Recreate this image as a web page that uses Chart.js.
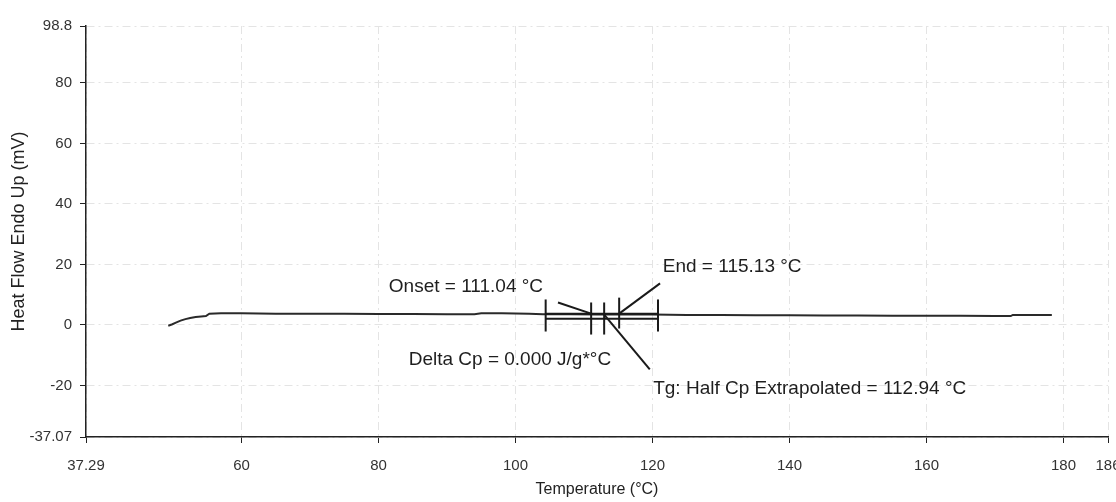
<!DOCTYPE html>
<html>
<head>
<meta charset="utf-8">
<title>DSC Heat Flow</title>
<script src="https://cdn.jsdelivr.net/npm/chart.js@4.4.1/dist/chart.umd.min.js"></script>
<style>
    html, body { margin: 0; padding: 0; background: #fff; }
    #dscChart { display: block; }
</style>
</head>
<body>
<canvas id="dscChart" width="1116" height="502"></canvas>
<script>
// Heat flow curve
const temps = [49.3, 49.9, 50.5, 51.1, 51.8, 52.5, 53.3, 54.1, 54.8, 55.3, 57, 60, 65, 70, 75, 80, 85, 90, 94, 95, 98, 102, 104, 108, 112, 116, 120, 125, 130, 135, 140, 145, 150, 155, 160, 165, 170, 172.3, 172.6, 175, 178.3];
const heatFlow = [-0.3, 0.2, 0.8, 1.4, 1.9, 2.3, 2.6, 2.8, 2.9, 3.7, 3.8, 3.8, 3.7, 3.7, 3.7, 3.6, 3.6, 3.5, 3.5, 3.8, 3.8, 3.7, 3.5, 3.5, 3.4, 3.4, 3.4, 3.3, 3.3, 3.2, 3.2, 3.1, 3.1, 3.0, 3.0, 3.0, 2.9, 2.9, 3.3, 3.3, 3.3];

// axis ticks
const xTicks = [37.29, 60, 80, 100, 120, 140, 160, 180, 186.5];
const xTickLabels = ['37.29', '60', '80', '100', '120', '140', '160', '180', '186'];
const yTicks = [-37.07, -20, 0, 20, 40, 60, 80, 98.8];
const yTickLabels = ['-37.07', '-20', '0', '20', '40', '60', '80', '98.8'];

// glass transition analysis
const onset = 111.04;
const tgHalf = 112.94;
const endT = 115.13;
const bracketEnds = [104.4, 120.8];
const bracketBand = [3.7, 2.0];        // top / bottom of the analysis band
const leaders = [
    [106.2, 7.4, onset, 3.7],
    [121.1, 13.7, endT, 3.7],
    [tgHalf, 3.4, 119.6, -14.7]
];
const notes = [
    { text: 'Onset = 111.04 °C', x: 81.5, y: 12.7 },
    { text: 'End = 115.13 °C', x: 121.5, y: 19.3 },
    { text: 'Delta Cp = 0.000 J/g*°C', x: 84.4, y: -11.5 },
    { text: 'Tg: Half Cp Extrapolated = 112.94 °C', x: 120.1, y: -21.1 }
];

const FONT = '"Liberation Sans", Arial, sans-serif';

// draws the Tg bracket, leader lines and labels with the chart's scales
const tgMarks = {
    id: 'tgMarks',
    afterDatasetsDraw(chart) {
        const { ctx, scales: { x, y } } = chart;
        ctx.save();
        ctx.strokeStyle = '#1a1a1a';
        ctx.lineWidth = 2;
        ctx.lineCap = 'butt';

        const x0 = x.getPixelForValue(bracketEnds[0]);
        const x1 = x.getPixelForValue(bracketEnds[1]);
        const yTop = y.getPixelForValue(bracketBand[0]);
        const yBot = y.getPixelForValue(bracketBand[1]);
        ctx.beginPath();
        ctx.moveTo(x0, yTop); ctx.lineTo(x1, yTop);
        ctx.moveTo(x0, yBot); ctx.lineTo(x1, yBot);
        ctx.stroke();

        // vertical marks: bracket ends tall, onset / Tg / end
        bracketEnds.forEach(v => {
            const px = x.getPixelForValue(v);
            ctx.beginPath();
            ctx.moveTo(px, y.getPixelForValue(8.4));
            ctx.lineTo(px, y.getPixelForValue(-2.2));
            ctx.stroke();
        });
        [onset, tgHalf, endT].forEach((v, i) => {
            const px = x.getPixelForValue(v);
            const top = i === 2 ? 9.0 : 7.4;
            const bot = i === 2 ? -1.2 : -3.2;
            ctx.beginPath();
            ctx.moveTo(px, y.getPixelForValue(top));
            ctx.lineTo(px, y.getPixelForValue(bot));
            ctx.stroke();
        });

        leaders.forEach(l => {
            ctx.beginPath();
            ctx.moveTo(x.getPixelForValue(l[0]), y.getPixelForValue(l[1]));
            ctx.lineTo(x.getPixelForValue(l[2]), y.getPixelForValue(l[3]));
            ctx.stroke();
        });

        ctx.fillStyle = '#1e1e1e';
        ctx.font = '19px ' + FONT;
        ctx.textAlign = 'left';
        ctx.textBaseline = 'middle';
        notes.forEach(n => {
            ctx.fillText(n.text, x.getPixelForValue(n.x), y.getPixelForValue(n.y));
        });
        ctx.restore();
    }
};

const ctx = document.getElementById('dscChart').getContext('2d');
new Chart(ctx, {
    type: 'scatter',
    data: {
        datasets: [{
            label: 'Heat Flow',
            data: temps.map((t, i) => ({ x: t, y: heatFlow[i] })),
            showLine: true,
            borderColor: '#2a2a2a',
            borderWidth: 2,
            pointRadius: 0,
            tension: 0
        }]
    },
    options: {
        responsive: false,
        animation: false,
        layout: { padding: { top: 26, right: 8, left: 0, bottom: 0 } },
        plugins: {
            legend: { display: false },
            tooltip: { enabled: false }
        },
        scales: {
            x: {
                type: 'linear',
                min: xTicks[0],
                max: xTicks[xTicks.length - 1],
                afterBuildTicks: s => { s.ticks = xTicks.map(v => ({ value: v })); },
                ticks: {
                    autoSkip: false,
                    maxRotation: 0,
                    padding: 14,
                    color: '#333',
                    font: { family: FONT, size: 15 },
                    callback: (v, i) => xTickLabels[i]
                },
                grid: { color: '#e4e4e4', tickColor: '#222', tickLength: 6, lineWidth: 1 },
                border: { color: '#222', width: 1.5, dash: [8, 4, 2, 4] },
                title: {
                    display: true,
                    text: 'Temperature (°C)',
                    color: '#222',
                    font: { family: FONT, size: 16 },
                    padding: { top: 0, bottom: 3 }
                },
                // let the last label run off the edge like the scan
                afterFit: s => { s.height = 65; s.paddingRight = 0; s.paddingLeft = 0; }
            },
            y: {
                min: yTicks[0],
                max: yTicks[yTicks.length - 1],
                afterBuildTicks: s => { s.ticks = yTicks.map(v => ({ value: v })); },
                ticks: {
                    autoSkip: false,
                    padding: 8,
                    color: '#333',
                    font: { family: FONT, size: 15 },
                    callback: (v, i) => yTickLabels[i]
                },
                grid: { color: '#e4e4e4', tickColor: '#222', tickLength: 6, lineWidth: 1 },
                border: { color: '#222', width: 1.5, dash: [8, 4, 2, 4] },
                title: {
                    display: true,
                    text: 'Heat Flow Endo Up (mV)',
                    color: '#222',
                    font: { family: FONT, size: 18 },
                    padding: { top: 8, bottom: 0 }
                },
                afterFit: s => { s.width = 86; }
            }
        }
    },
    plugins: [tgMarks]
});
</script>
</body>
</html>
